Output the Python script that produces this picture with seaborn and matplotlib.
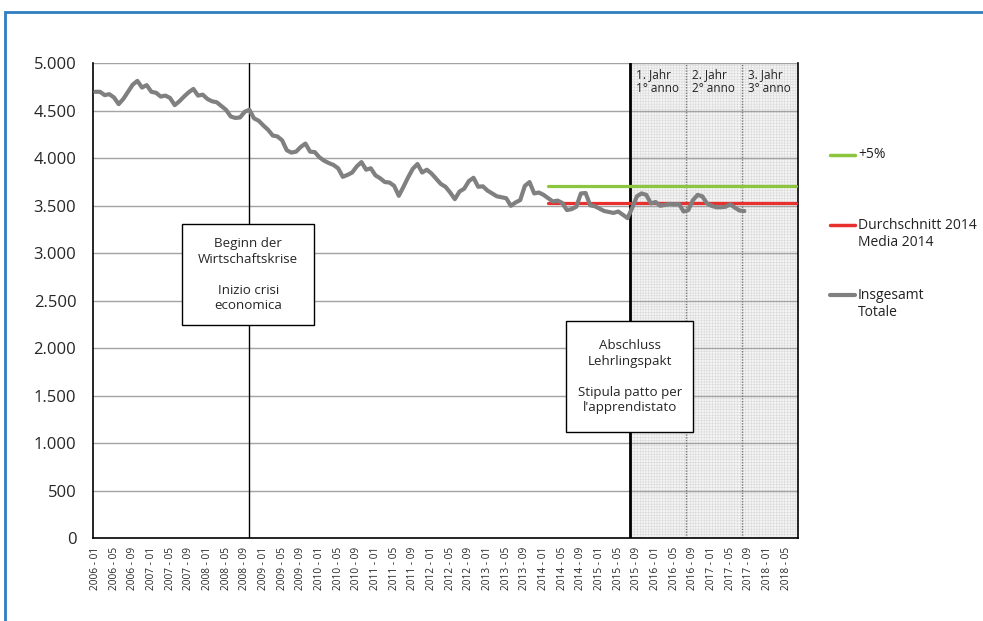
import matplotlib
matplotlib.use("Agg")
import matplotlib.pyplot as plt
import seaborn as sns
import pandas as pd
from matplotlib.patches import Rectangle
from matplotlib.lines import Line2D

# ---------------- data ----------------
months = [f"{y} - {m:02d}" for y in range(2006, 2019) for m in range(1, 13)][:151]

total = [
    4700, 4700, 4665, 4675, 4640, 4570, 4625, 4700, 4775, 4815,
    4745, 4770, 4700, 4690, 4650, 4660, 4635, 4560, 4600, 4650,
    4695, 4730, 4660, 4670, 4625, 4600, 4590, 4550, 4510, 4440,
    4425, 4430, 4490, 4510, 4420, 4395, 4345, 4300, 4240, 4230,
    4190, 4085, 4060, 4070, 4120, 4155, 4070, 4065, 4010, 3975,
    3950, 3930, 3895, 3805, 3825, 3850, 3915, 3960, 3880, 3895,
    3820, 3790, 3750, 3745, 3710, 3605, 3700, 3800, 3890, 3940,
    3850, 3880, 3840, 3785, 3730, 3700, 3640, 3570, 3650, 3680,
    3760, 3795, 3700, 3705, 3660, 3630, 3600, 3590, 3580, 3500,
    3535, 3560, 3710, 3750, 3630, 3640, 3615, 3580, 3545, 3555,
    3530, 3455, 3465, 3490, 3630, 3635, 3505, 3495, 3470, 3445,
    3435, 3425, 3440, 3405, 3370, 3480, 3600, 3630, 3615, 3525,
    3540, 3500, 3510, 3520, 3515, 3520, 3440, 3455, 3560, 3615,
    3600, 3525, 3500, 3485, 3485, 3490, 3515, 3480, 3450, 3445,
]
avg_2014 = 3530
plus_5 = 3706
ref_start, ref_end = 97, 150

crisis_idx = 33
year_bounds = [114.5, 126.5, 138.5, 150.5]
year_labels = ["1. Jahr\n1° anno", "2. Jahr\n2° anno", "3. Jahr\n3° anno"]

yticks = [0, 500, 1000, 1500, 2000, 2500, 3000, 3500, 4000, 4500, 5000]
ytick_labels = ["0", "500", "1.000", "1.500", "2.000", "2.500",
                "3.000", "3.500", "4.000", "4.500", "5.000"]

legend_labels = ["+5%", "Durchschnitt 2014\nMedia 2014", "Insgesamt\nTotale"]
box1_text = "Beginn der\nWirtschaftskrise\n\nInizio crisi\neconomica"
box2_text = "Abschluss\nLehrlingspakt\n\nStipula patto per\nl'apprendistato"

GREY = "#808080"
GREEN = "#8cc63e"
RED = "#e8302f"

df_total = pd.DataFrame({"idx": list(range(len(total))), "value": total})
ref_idx = list(range(ref_start, ref_end + 1))
df_avg = pd.DataFrame({"idx": ref_idx, "value": [avg_2014] * len(ref_idx)})
df_p5 = pd.DataFrame({"idx": ref_idx, "value": [plus_5] * len(ref_idx)})

# ---------------- style ----------------
sns.set_style("white")
plt.rcParams['font.family'] = ['Open Sans', 'DejaVu Sans']
plt.rcParams['hatch.linewidth'] = 0.4

W, H = 983, 621
fig = plt.figure(figsize=(W / 100, H / 100), dpi=100)
ax = fig.add_axes([93 / W, 1 - 538.3 / H, 705 / W, (538.3 - 63.3) / H])

# shaded 3-year region
ax.axvspan(year_bounds[0], year_bounds[-1], facecolor="#f4f4f4", hatch="++++++",
           edgecolor="#dadada", linewidth=0, zorder=0.5)

# horizontal grid lines
for yv in yticks[1:]:
    ax.axhline(yv, color="#a3a3a3", lw=1.0, zorder=1)

# vertical marker lines
ax.axvline(crisis_idx, color="black", lw=1.0, zorder=2)
ax.axvline(year_bounds[0], color="black", lw=2.0, zorder=2)
for b in year_bounds[1:3]:
    ax.axvline(b, color="#7a7a7a", lw=1.0, ls=(0, (1, 1)), zorder=2)

# series
sns.lineplot(data=df_p5, x="idx", y="value", ax=ax, color=GREEN, lw=2.3, zorder=3)
sns.lineplot(data=df_avg, x="idx", y="value", ax=ax, color=RED, lw=2.3, zorder=3)
sns.lineplot(data=df_total, x="idx", y="value", ax=ax, color=GREY, lw=3.0, zorder=4)

ax.set_xlim(-0.5, 150.5)
ax.set_ylim(0, 5000)
ax.set_xlabel("")
ax.set_ylabel("")

# year labels
for b, lab in zip(year_bounds[:3], year_labels):
    ax.text(b + 1.2, 4950, lab, fontsize=8.5, va="top", ha="left",
            linespacing=1.1, color="#222222", zorder=3)

# annotation boxes
ax.add_patch(Rectangle((18.6, 2240), 28.3, 1072, facecolor="white",
                       edgecolor="black", lw=1.0, zorder=5))
ax.text(32.75, 2776, box1_text, ha="center", va="center", fontsize=9.6,
        linespacing=1.25, zorder=6)
ax.add_patch(Rectangle((100.9, 1117), 27.2, 1166, facecolor="white",
                       edgecolor="black", lw=1.0, zorder=5))
ax.text(114.5, 1700, box2_text, ha="center", va="center", fontsize=9.6,
        linespacing=1.25, zorder=6)

# axes cosmetics
ax.set_yticks(yticks)
ax.set_yticklabels(ytick_labels, fontsize=12)
ax.tick_params(axis="y", length=0, pad=12)
ax.set_xticks(list(range(len(months))))
ax.set_xticklabels([m if (i % 4 == 0 and i <= 148) else "" for i, m in enumerate(months)],
                   rotation=90, fontsize=7.3)
ax.tick_params(axis="x", length=3, width=0.6, color="#8a8a8a", pad=3)
for s in ["left", "bottom", "right"]:
    ax.spines[s].set_visible(True)
    ax.spines[s].set_color("black")
    ax.spines[s].set_linewidth(1.2)
ax.spines["top"].set_visible(False)

# legend (manual, right side)
leg = [(155, GREEN, 2.5, legend_labels[0], 155),
       (225, RED, 2.5, legend_labels[1], 234),
       (295, GREY, 3.0, legend_labels[2], 304)]
for ly, col, lw, lab, ty in leg:
    fig.add_artist(Line2D([830 / W, 855 / W], [1 - ly / H] * 2, color=col, lw=lw))
    fig.text(858 / W, 1 - ty / H, lab, fontsize=10, va="center", ha="left",
             linespacing=1.25, color="#222222")

# blue frame
fig.add_artist(Rectangle((5 / W, -0.05), 1.2, (H - 12) / H + 0.05,
                         transform=fig.transFigure, fill=False,
                         edgecolor="#2f7dc1", lw=2))

fig.savefig("out.png", dpi=100)
